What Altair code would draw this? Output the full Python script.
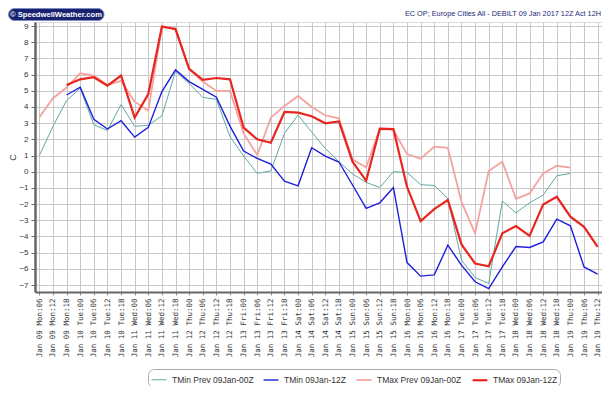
import altair as alt
import pandas as pd

labels = [
    "Jan 09 Mon:06", "Jan 09 Mon:12", "Jan 09 Mon:18",
    "Jan 10 Tue:00", "Jan 10 Tue:06", "Jan 10 Tue:12", "Jan 10 Tue:18",
    "Jan 11 Wed:00", "Jan 11 Wed:06", "Jan 11 Wed:12", "Jan 11 Wed:18",
    "Jan 12 Thu:00", "Jan 12 Thu:06", "Jan 12 Thu:12", "Jan 12 Thu:18",
    "Jan 13 Fri:00", "Jan 13 Fri:06", "Jan 13 Fri:12", "Jan 13 Fri:18",
    "Jan 14 Sat:00", "Jan 14 Sat:06", "Jan 14 Sat:12", "Jan 14 Sat:18",
    "Jan 15 Sun:00", "Jan 15 Sun:06", "Jan 15 Sun:12", "Jan 15 Sun:18",
    "Jan 16 Mon:00", "Jan 16 Mon:06", "Jan 16 Mon:12", "Jan 16 Mon:18",
    "Jan 17 Tue:00", "Jan 17 Tue:06", "Jan 17 Tue:12", "Jan 17 Tue:18",
    "Jan 18 Wed:00", "Jan 18 Wed:06", "Jan 18 Wed:12", "Jan 18 Wed:18",
    "Jan 19 Thu:00", "Jan 19 Thu:06", "Jan 19 Thu:12",
]

tmin_prev = [1.0, 2.8, 4.4, 5.15, 2.9, 2.55, 4.15, 2.8, 2.87, 3.45, 6.2, 5.45,
             4.6, 4.47, 2.16, 0.97, -0.1, 0.05, 2.37, 3.5, 2.45, 1.44, 0.62,
             -0.14, -0.66, -0.97, 0.0, -0.04, -0.8, -0.85, -1.65, -5.46, -6.54,
             -6.9, -1.81, -2.54, -1.92, -1.44, -0.25, -0.1, None, None]
tmin_now = [None, None, 4.74, 5.22, 3.24, 2.64, 3.15, 2.14, 2.74, 4.95, 6.29,
            5.57, 5.09, 4.6, 2.82, 1.28, 0.82, 0.47, -0.58, -0.87, 1.48, 0.97,
            0.6, -0.82, -2.27, -1.92, -0.97, -5.61, -6.45, -6.37, -4.54, -5.77,
            -6.8, -7.22, -5.88, -4.62, -4.68, -4.33, -2.93, -3.34, -5.88, -6.33]
tmax_prev = [3.36, 4.54, 5.2, 6.08, 5.94, 5.36, 5.61, 4.33, 3.77, 8.93, 8.87,
             6.33, 5.57, 4.99, 4.99, 2.37, 1.03, 3.34, 4.06, 4.68, 4.0, 3.48,
             3.3, 0.76, 0.27, 2.64, 2.58, 1.09, 0.8, 1.55, 1.48, -1.86, -3.81,
             0.04, 0.62, -1.67, -1.34, -0.1, 0.37, 0.25, None, None]
tmax_now = [None, None, 5.36, 5.71, 5.84, 5.32, 5.94, 3.34, 4.8, 8.97, 8.8,
            6.35, 5.67, 5.79, 5.71, 2.72, 2.0, 1.79, 3.69, 3.65, 3.43, 2.99,
            3.11, 0.62, -0.56, 2.66, 2.64, -0.93, -3.05, -2.31, -1.75, -4.49,
            -5.67, -5.84, -3.81, -3.36, -3.96, -2.02, -1.55, -2.78, -3.4, -4.64]

series_names = ["TMin Prev 09Jan-00Z", "TMin 09Jan-12Z",
                "TMax Prev 09Jan-00Z", "TMax 09Jan-12Z"]
series_colors = ["#5FA9A2", "#1E1EDC", "#F5A3A0", "#E8251F"]
series_widths = [1.0, 2.2, 1.0, 2.2]
y_ticks = list(range(-7, 10))

rows = []
for name, vals in zip(series_names, [tmin_prev, tmin_now, tmax_prev, tmax_now]):
    for lab, v in zip(labels, vals):
        if v is not None:
            rows.append({"time": lab, "value": v, "series": name})
df = pd.DataFrame(rows)

font = "Liberation Sans"

lines = alt.Chart(df).mark_line(strokeJoin="miter").encode(
    x=alt.X("time:N", sort=labels,
            scale=alt.Scale(type="point", padding=0.32),
            axis=alt.Axis(title=None, labelAngle=270, labelFont="DejaVu Sans Mono",
                          labelFontSize=7.5, labelColor="#333", labelPadding=3,
                          tickSize=3, tickColor="#888", domainColor="#666",
                          domainWidth=2, grid=True, gridColor="#C8C8C8")),
    y=alt.Y("value:Q",
            scale=alt.Scale(domain=[-7.43, 9.25], nice=False, zero=False),
            axis=alt.Axis(title="C", values=y_ticks, labelFont=font, labelFontSize=8,
                          labelColor="#333", tickSize=4, tickColor="#666",
                          labelPadding=3, domainColor="#666", domainWidth=2.5,
                          grid=True, gridColor="#C8C8C8", titleFont=font,
                          titleFontSize=9, titleFontWeight="normal",
                          titleColor="#333", titleX=-18)),
    color=alt.Color("series:N", sort=series_names,
                    scale=alt.Scale(domain=series_names, range=series_colors),
                    legend=alt.Legend(title=None, orient="none", legendX=113,
                                      legendY=347, direction="horizontal",
                                      columns=4, symbolType="stroke",
                                      symbolSize=220, symbolStrokeWidth=2.2,
                                      labelFont=font, labelFontSize=8.5,
                                      labelColor="#333", columnPadding=6,
                                      strokeColor="#AAAAAA", cornerRadius=6,
                                      padding=2, fillColor="white")),
    strokeWidth=alt.StrokeWidth("series:N",
                                scale=alt.Scale(domain=series_names,
                                                range=series_widths),
                                legend=None),
)

one = pd.DataFrame({"a": [0]})
badge = alt.Chart(one).mark_rect(cornerRadius=6, fill="#18226E",
                                 stroke="#7F8BC4", strokeWidth=1).encode(
    x=alt.value(-26.5), x2=alt.value(69), y=alt.value(-13.5), y2=alt.value(-1.5))
badge_text = alt.Chart(one).mark_text(
    text="© SpeedwellWeather.com", color="white", font=font,
    fontWeight="bold", fontSize=7.6, align="center", baseline="middle").encode(
    x=alt.value(21), y=alt.value(-7.5))
header = alt.Chart(one).mark_text(
    text="EC OP; Europe Cities All - DEBILT 09 Jan 2017 12Z Act 12H",
    color="#1C2A78", font=font, fontSize=7.3, align="right",
    baseline="middle").encode(x=alt.value(566), y=alt.value(-8))

chart = alt.layer(lines, badge, badge_text, header).properties(
    width=567, height=270,
    padding={"left": 27, "top": 14, "right": 0, "bottom": 94},
    autosize=alt.AutoSizeParams(type="none"),
).configure_view(stroke=None).configure(background="white")

chart.save("out.html", embed_options={"renderer": "svg", "actions": False})
